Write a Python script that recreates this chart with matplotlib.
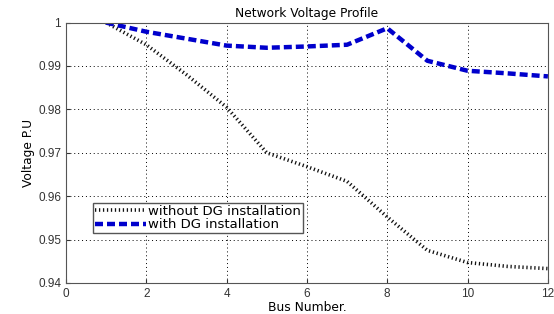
import numpy as np
import matplotlib.pyplot as plt

plt.rcParams['font.family'] = ['DejaVu Sans']

bus = [1, 2, 3, 4, 5, 6, 7, 8, 9, 10, 11, 12]
v_without_dg = [1.0, 0.9949, 0.9880, 0.9805, 0.9700, 0.9668, 0.9634, 0.9552, 0.9475, 0.9447, 0.9438, 0.9433]
v_with_dg = [1.0, 0.9979, 0.9963, 0.9947, 0.9942, 0.9945, 0.9949, 0.9987, 0.9912, 0.9889, 0.9883, 0.9876]

fig = plt.figure(figsize=(5.54, 3.14), dpi=100)
ax = fig.add_axes([0.119, 0.099, 0.870, 0.829])

ax.plot(bus, v_without_dg, color='#111111', linestyle=(0, (0.35, 0.75)), linewidth=2.6, label='without DG installation')
ax.plot(bus, v_with_dg, color='#0000cc', linestyle=(0, (1.8, 0.9)), linewidth=3.2, label='with DG installation')

ax.set_xlim(0, 12)
ax.set_ylim(0.94, 1.0)
ax.set_xticks(np.arange(0, 13, 2))
ax.set_yticks([0.94, 0.95, 0.96, 0.97, 0.98, 0.99, 1.0])
ax.set_yticklabels(['0.94', '0.95', '0.96', '0.97', '0.98', '0.99', '1'])
ax.grid(True, color='black', linestyle=(0, (1, 3)), linewidth=0.7)
ax.tick_params(direction='in', length=3, colors='#333333')
for lbl in ax.get_xticklabels() + ax.get_yticklabels():
    lbl.set_fontfamily('Liberation Sans')
    lbl.set_fontsize(8.5)
for s in ax.spines.values():
    s.set_color('#555555')

ax.set_title('Network Voltage Profile', fontsize=8.8, pad=4)
ax.set_xlabel('Bus Number.', fontsize=8.8, labelpad=1)
ax.set_ylabel('Voltage P.U', fontsize=8.8, labelpad=2)

leg = ax.legend(loc='lower left', bbox_to_anchor=(0.056, 0.19), fontsize=9.5, fancybox=False,
                framealpha=1, edgecolor='#555555', handlelength=3.9, handletextpad=0.1,
                borderpad=0.15, labelspacing=0.05, borderaxespad=0)

fig.savefig('out.png', dpi=100)
